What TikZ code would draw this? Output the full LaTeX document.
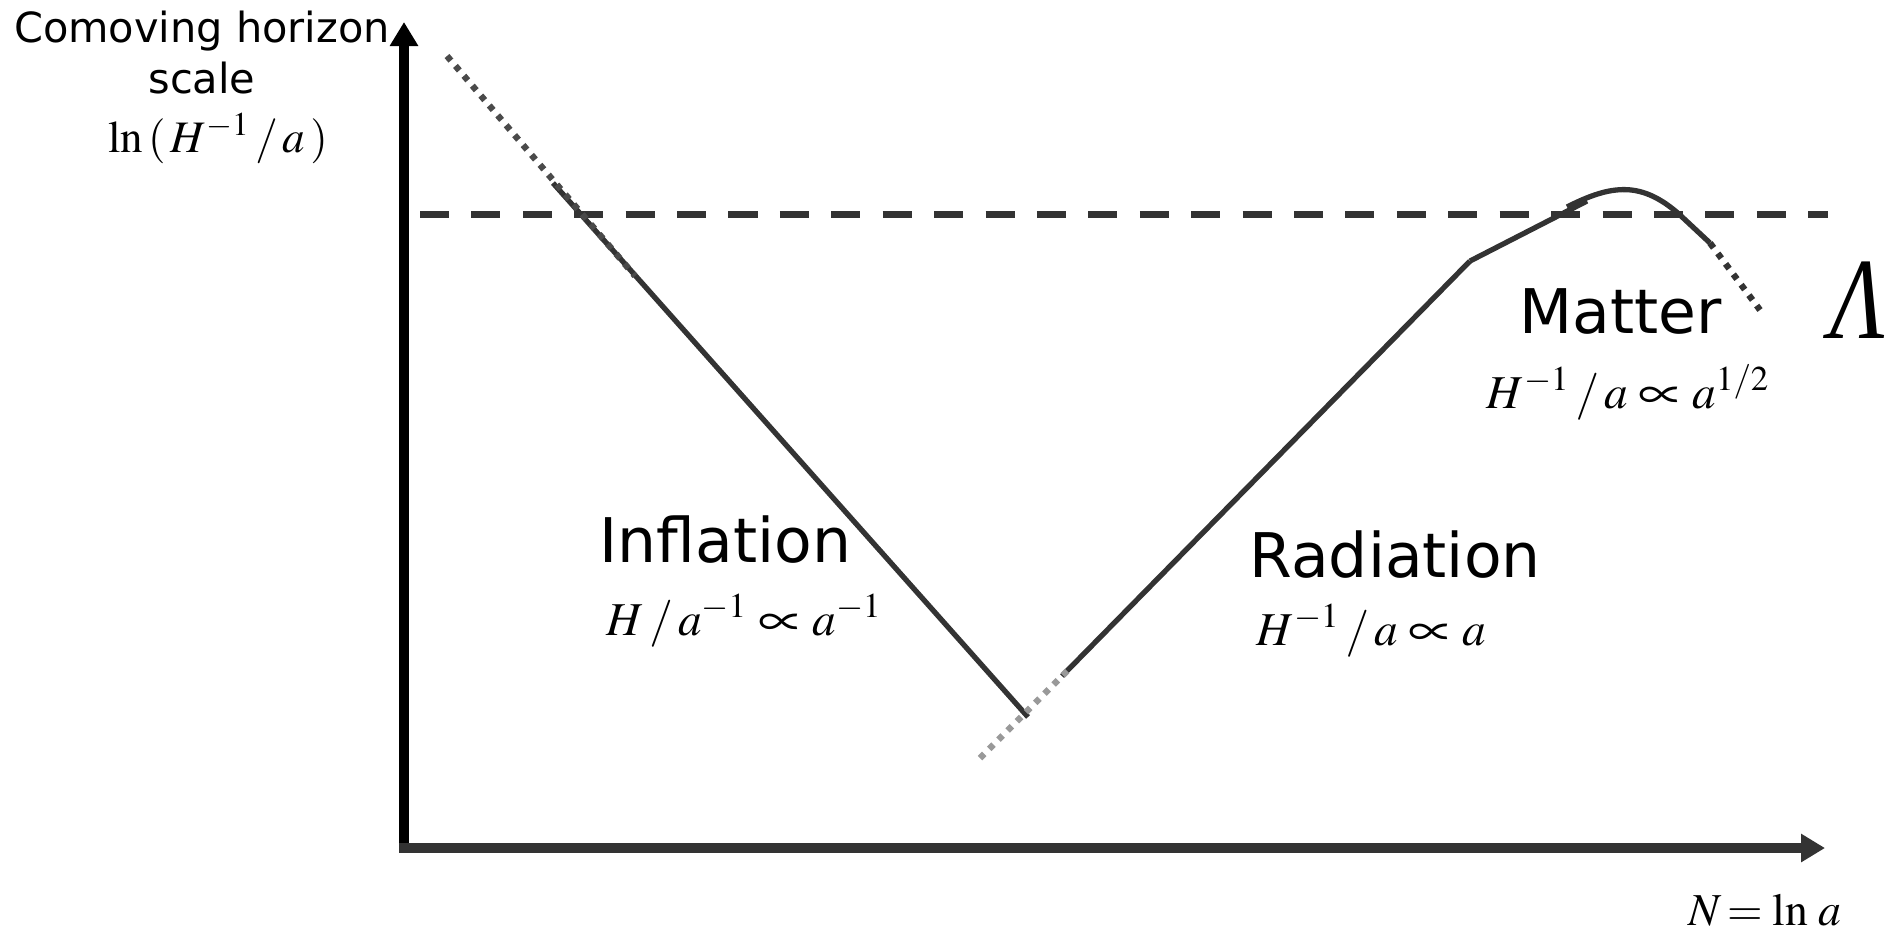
\documentclass[tikz,border=0pt]{standalone}
\usepackage{mathptmx}
\usepackage{fontspec}
\usepackage{graphicx}
\setmainfont{Liberation Serif}
\setsansfont{DejaVu Sans}
\usetikzlibrary{arrows.meta,positioning}

\definecolor{curvegray}{HTML}{333333}
\definecolor{dotdark}{HTML}{4A4A4A}
\definecolor{dotlight}{HTML}{999999}
\newcommand{\wideprop}{\mathrel{\scalebox{1.3}[1.1]{$\propto$}}}

\begin{document}
\begin{tikzpicture}[
    x=0.01cm, y=-0.01cm,
    axis/.style={line width=2.85pt, -{Triangle[width=0.27cm,length=0.24cm]}},
    era/.style={line width=1.5pt, draw=curvegray},
    dotline/.style={line width=1.8pt, dash pattern=on 1.7pt off 2pt},
    horizon/.style={line width=2pt, draw=curvegray, dash pattern=on 8.25pt off 6.37pt},
    phase/.style={font=\sffamily\fontsize{17.5}{21}\selectfont, inner sep=0pt, anchor=base west},
    law/.style={font=\fontsize{13.4}{16}\selectfont, inner sep=0pt, anchor=base west},
    axislabel/.style={font=\sffamily\fontsize{11.8}{13.4}\selectfont, inner sep=0pt, anchor=base}
]
    \useasboundingbox (0,0) rectangle (1897,932);

    % Axes
    \coordinate (origin) at (404,848);
    \coordinate (xstart) at (399,848);
    \coordinate (ytip) at (404,22);
    \coordinate (xtip) at (1825,848);
    \draw [axis, draw=black] (origin) -- (ytip);
    \draw [axis, draw=curvegray] (xstart) -- (xtip);

    % Cosmological constant scale
    \coordinate (hstart) at (420,214);
    \coordinate (hend) at (1828,214);
    \draw [horizon] (hstart) -- (hend);

    % Inflation
    \coordinate (inftop) at (447,56);
    \coordinate (infdot) at (635,276);
    \coordinate (infstart) at (553,183);
    \coordinate (infend) at (1028,717);
    \draw [era] (infstart) -- (infend);
    \draw [dotline, dotdark] (inftop) -- (infdot);

    % Radiation
    \coordinate (radlow) at (980,758);
    \coordinate (raddot) at (1070,668);
    \coordinate (radstart) at (1062,676);
    \coordinate (radknee) at (1470,261);
    \draw [era] (radstart) -- (radknee);
    \draw [dotline, dotlight] (radlow) -- (raddot);

    % Matter and Lambda
    \coordinate (matknee) at (1587,201);
    \coordinate (bendstart) at (1567,207);
    \coordinate (bendend) at (1680,215);
    \coordinate (matend) at (1710,243);
    \coordinate (lamdot) at (1760,310);
    \draw [era] (radknee) -- (matknee);
    \draw [era] (bendstart) .. controls (1612,184) and (1642,181) .. (bendend) -- (matend);
    \draw [dotline, curvegray] (matend) -- (lamdot);

    % Axis labels
    \node [axislabel] (ylabel) at (202,42) {Comoving horizon};
    \node [axislabel] (yscale) at (202,93) {scale};
    \node [font=\fontsize{12.8}{15}\selectfont, inner sep=0pt, anchor=base] (ylaw) at (218,152) {$\ln\,(\,H^{-1}\,/\,a\,)$};
    \node [font=\fontsize{13}{15}\selectfont, inner sep=0pt, anchor=base west] (xlabel) at (1688,925) {$N\,{=}\,\ln\,a$};

    % Era labels
    \node [phase] (inflation) at (599,562) {Inflation};
    \node [law] (inflaw) at (606,635) {$H\,/\,a^{-1}\wideprop a^{-1}$};
    \node [phase] (radiation) at (1249,577) {Radiation};
    \node [law] (radlaw) at (1256,645) {$H^{-1}\,/\,a\wideprop a$};
    \node [phase] (matter) at (1519,333) {Matter};
    \node [law] (matlaw) at (1486,408) {$H^{-1}\,/\,a\wideprop a^{1/2}$};
    \node [inner sep=0pt, anchor=base west] (lambda) at (1830,338) {\scalebox{0.78}[1]{\fontsize{33}{33}\selectfont\itshape Λ}};

\end{tikzpicture}
\end{document}
